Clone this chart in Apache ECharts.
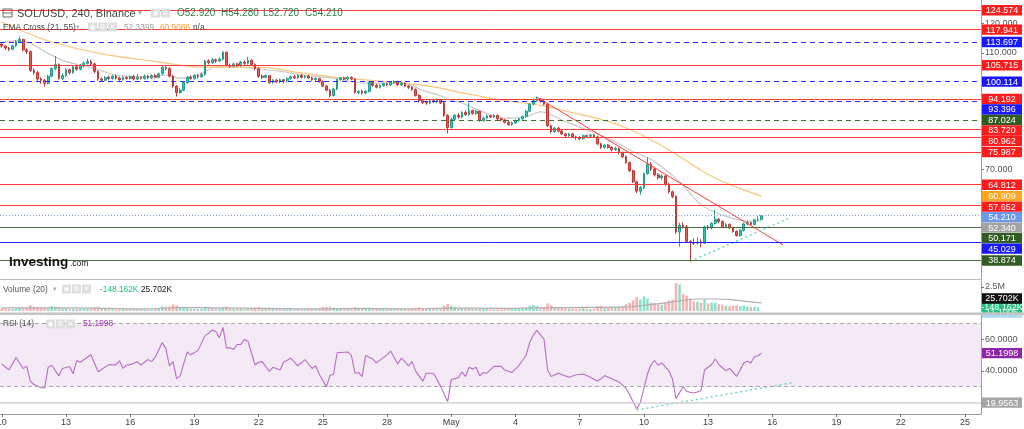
<!DOCTYPE html>
<html><head><meta charset="utf-8">
<script src="https://cdn.jsdelivr.net/npm/echarts@6/dist/echarts.min.js"></script>
<style>html,body{margin:0;padding:0;background:#fff}#c{width:1024px;height:429px}</style>
</head><body><div id="c"></div>
<script>
// ---------- DATA (SOL/USD, 4h candles, Binance) ----------
const opens = [
113.0,112.3,111.6,111.2,112.4,113.8,114.6,111.0,110.4,104.0,
103.2,101.0,100.6,99.6,102.0,104.6,106.0,101.2,102.2,104.2,
103.2,105.2,104.4,105.6,106.4,107.0,106.2,103.6,101.0,100.6,
101.6,101.2,102.0,101.4,100.8,101.6,101.2,101.8,101.0,101.6,
101.2,102.0,101.4,102.2,101.6,102.8,105.0,104.6,102.0,98.6,
96.4,97.2,99.8,101.6,101.2,102.2,101.8,102.6,107.2,106.6,
107.6,107.2,107.8,110.2,105.8,105.4,106.2,105.6,106.8,106.4,
107.4,106.0,104.6,102.0,101.6,102.2,99.8,100.6,100.0,100.8,
100.4,101.2,101.8,101.4,102.2,101.6,102.0,101.4,100.8,101.2,
100.2,98.6,97.2,95.4,97.6,100.8,101.4,101.0,101.6,101.0,
96.4,96.8,96.2,96.8,99.8,98.8,98.2,98.8,99.4,99.0,
99.8,100.2,99.0,99.6,98.6,98.2,97.4,95.4,93.6,93.0,
92.8,93.6,93.2,93.8,92.8,88.6,84.4,87.2,88.6,88.0,
89.6,88.8,90.2,89.2,90.0,86.8,87.6,88.4,88.0,88.6,
87.4,87.0,86.2,85.4,86.0,86.8,87.4,88.2,90.0,92.4,
93.6,94.2,93.4,92.4,85.0,83.0,84.2,83.2,82.2,81.6,
82.2,81.2,81.0,80.6,81.6,81.4,81.8,81.2,78.8,77.6,
78.4,77.6,76.8,77.2,75.8,74.4,72.4,69.6,65.8,62.6,
63.8,68.6,71.8,70.2,68.2,67.2,67.8,65.0,62.4,60.8,
48.6,51.0,50.4,45.4,45.0,44.8,45.2,44.8,50.4,50.0,
51.6,53.0,52.2,50.4,51.2,50.0,48.8,47.4,49.2,51.4,
51.8,51.2,52.8,52.92];
const closes = [
112.3,111.6,111.2,112.4,113.8,114.6,111.0,110.4,104.0,103.2,
101.0,100.6,99.6,102.0,104.6,106.0,101.2,102.2,104.2,103.2,
105.2,104.4,105.6,106.4,107.0,106.2,103.6,101.0,100.6,101.6,
101.2,102.0,101.4,100.8,101.6,101.2,101.8,101.0,101.6,101.2,
102.0,101.4,102.2,101.6,102.8,105.0,104.6,102.0,98.6,96.4,
97.2,99.8,101.6,101.2,102.2,101.8,102.6,107.2,106.6,107.6,
107.2,107.8,110.2,105.8,105.4,106.2,105.6,106.8,106.4,107.4,
106.0,104.6,102.0,101.6,102.2,99.8,100.6,100.0,100.8,100.4,
101.2,101.8,101.4,102.2,101.6,102.0,101.4,100.8,101.2,100.2,
98.6,97.2,95.4,97.6,100.8,101.4,101.0,101.6,101.0,96.4,
96.8,96.2,96.8,99.8,98.8,98.2,98.8,99.4,99.0,99.8,
100.2,99.0,99.6,98.6,98.2,97.4,95.4,93.6,93.0,92.8,
93.6,93.2,93.8,92.8,88.6,84.4,87.2,88.6,88.0,89.6,
88.8,90.2,89.2,90.0,86.8,87.6,88.4,88.0,88.6,87.4,
87.0,86.2,85.4,86.0,86.8,87.4,88.2,90.0,92.4,93.6,
94.2,93.4,92.4,85.0,83.0,84.2,83.2,82.2,81.6,82.2,
81.2,81.0,80.6,81.6,81.4,81.8,81.2,78.8,77.6,78.4,
77.6,76.8,77.2,75.8,74.4,72.4,69.6,65.8,62.6,63.8,
68.6,71.8,70.2,68.2,67.2,67.8,65.0,62.4,60.8,48.6,
51.0,50.4,45.4,45.0,44.8,45.2,44.8,50.4,50.0,51.6,
53.0,52.2,50.4,51.2,50.0,48.8,47.4,49.2,51.4,51.8,
51.2,52.8,52.92,54.21];
const lows = [
111.8,111.0,110.6,110.9,112.0,113.4,110.5,109.6,103.5,102.5,
100.4,99.4,98.4,99.2,101.6,104.0,100.8,100.6,101.8,102.6,
102.8,103.8,104.0,105.0,106.0,105.6,103.0,100.4,100.0,100.2,
100.6,100.8,100.8,100.4,100.4,100.8,100.8,100.6,100.6,100.8,
100.8,101.0,101.0,101.2,101.2,102.4,104.0,101.6,98.0,95.0,
96.0,96.8,99.4,100.8,100.8,101.2,101.4,102.2,106.0,106.2,
106.6,106.8,107.4,105.4,104.8,105.0,105.2,105.2,105.8,106.0,
105.6,104.0,101.4,101.0,101.2,99.4,99.4,99.6,99.6,99.6,
99.8,100.8,101.0,101.0,101.2,101.2,101.0,100.4,100.4,99.8,
98.2,96.8,94.8,95.0,97.2,100.4,100.6,100.6,100.6,96.0,
95.8,95.6,95.8,96.4,98.4,97.8,97.8,98.4,98.6,98.6,
99.4,98.6,98.6,98.2,97.6,97.0,95.0,93.0,92.4,92.2,
92.4,92.8,92.8,92.4,88.0,82.4,84.0,86.8,87.4,87.6,
88.4,88.4,88.8,88.8,86.4,86.4,87.2,87.6,87.6,87.0,
86.6,85.8,85.0,85.0,85.6,86.4,87.0,87.8,89.6,92.0,
93.2,93.0,92.0,84.6,82.4,82.6,82.8,81.8,81.0,81.2,
80.8,80.2,80.0,80.2,81.0,81.0,80.8,78.4,77.0,77.2,
77.2,76.2,76.4,75.2,74.0,72.0,69.2,65.4,62.0,61.4,
63.4,68.2,69.6,67.6,66.6,66.4,64.4,61.8,60.2,48.0,
43.6,49.8,45.0,38.5,44.2,44.4,43.4,44.6,49.4,49.6,
51.2,51.6,50.0,50.0,49.6,48.4,47.0,47.0,48.8,51.0,
50.8,50.8,52.4,52.72];
const highs = [
113.6,112.6,112.0,112.8,114.4,115.6,114.9,111.5,110.8,104.6,
103.8,101.6,101.0,102.4,105.0,108.9,106.4,103.0,104.8,104.6,
105.6,105.8,106.2,107.0,108.0,107.6,106.6,104.0,101.6,102.0,
102.2,102.4,102.6,101.8,102.0,102.0,102.2,102.4,102.8,102.0,
102.6,102.4,102.6,102.8,103.2,105.4,105.6,105.0,102.4,99.0,
97.8,100.2,102.0,102.2,102.6,102.6,103.2,107.6,107.8,108.2,
108.0,108.4,110.6,110.4,106.4,106.6,106.6,107.2,107.4,108.6,
107.8,106.4,105.0,102.6,102.6,102.4,101.0,101.0,101.2,101.0,
101.6,102.2,102.4,102.6,102.8,102.4,102.4,101.8,101.6,101.4,
100.6,99.0,97.6,98.0,101.2,101.8,101.8,102.0,102.0,101.4,
97.2,97.4,97.2,100.2,100.2,99.4,99.2,99.8,99.8,100.2,
100.6,100.4,100.0,99.8,99.0,98.6,97.8,95.8,94.0,93.6,
94.0,94.2,94.4,94.2,93.2,89.0,87.8,89.0,89.4,90.0,
90.2,92.8,90.6,90.4,90.2,88.0,88.8,88.8,89.0,88.8,
87.8,87.4,86.6,86.4,87.2,87.8,88.6,90.4,92.8,94.2,
95.0,94.6,93.8,92.8,85.4,84.6,84.6,83.6,82.6,82.6,
82.6,81.6,81.4,82.0,82.0,82.2,82.2,81.6,79.2,78.8,
78.8,78.0,77.8,77.6,76.2,74.8,72.8,70.0,66.2,64.4,
69.0,74.2,72.6,70.8,68.8,68.4,68.2,65.4,62.8,61.2,
51.8,52.0,51.0,45.8,46.4,46.8,46.2,50.8,51.0,52.0,
56.2,53.4,52.6,51.6,51.6,50.4,49.2,49.6,51.8,52.6,
52.2,53.2,54.0,54.28];
// volume in millions
const volumes = [
0.30,0.25,0.22,0.20,0.28,0.30,0.26,0.35,0.62,0.45,
0.40,0.30,0.32,0.28,0.50,0.45,0.42,0.25,0.28,0.22,
0.25,0.20,0.22,0.24,0.26,0.22,0.38,0.44,0.30,0.22,
0.18,0.20,0.16,0.18,0.15,0.17,0.16,0.18,0.15,0.16,
0.18,0.15,0.17,0.20,0.22,0.50,0.45,0.48,0.70,0.60,
0.45,0.40,0.35,0.25,0.22,0.20,0.24,0.45,0.30,0.28,
0.25,0.26,0.40,0.45,0.30,0.24,0.22,0.25,0.20,0.28,
0.30,0.32,0.42,0.26,0.22,0.30,0.22,0.20,0.18,0.20,
0.18,0.20,0.16,0.18,0.17,0.15,0.16,0.18,0.17,0.22,
0.40,0.42,0.45,0.35,0.30,0.22,0.18,0.20,0.18,0.38,
0.30,0.26,0.22,0.35,0.22,0.20,0.18,0.20,0.17,0.18,
0.17,0.20,0.16,0.18,0.20,0.22,0.32,0.40,0.26,0.24,
0.22,0.20,0.18,0.22,0.55,0.75,0.55,0.40,0.32,0.28,
0.25,0.30,0.22,0.20,0.30,0.24,0.20,0.18,0.17,0.18,
0.17,0.20,0.26,0.22,0.24,0.25,0.28,0.35,0.55,0.62,
0.50,0.38,0.40,0.80,0.60,0.40,0.35,0.30,0.28,0.26,
0.25,0.24,0.26,0.30,0.25,0.22,0.24,0.50,0.55,0.40,
0.38,0.42,0.35,0.45,0.50,0.70,0.85,1.10,1.45,1.20,
1.50,1.30,0.90,0.85,0.70,0.65,0.90,1.10,1.20,2.90,
2.80,1.80,1.60,1.30,1.00,0.95,0.85,1.20,0.80,0.90,
0.85,0.70,0.65,0.55,0.50,0.55,0.60,0.50,0.55,0.45,
0.40,0.45,0.38,0.03];
// [candle index, value]
const volumeMA = [[0,0.32],[20,0.33],[40,0.22],[50,0.35],[60,0.33],[75,0.28],[90,0.22],[100,0.28],[115,0.22],[125,0.30],[140,0.28],[150,0.33],[165,0.38],[175,0.42],[180,0.6],[185,0.8],[190,1.05],[195,1.25],[200,1.25],[205,1.15],[210,0.95],[213,0.85]];
const emaFast = [[0,113.6],[5,114.2],[14,109.2],[18,107.0],[26,104.7],[32,102.4],[42,101.8],[46,102.4],[50,101.3],[56,103.0],[60,105.2],[65,105.2],[70,104.7],[79,103.5],[84,102.4],[93,101.3],[102,99.6],[112,99.6],[119,96.7],[123,95.3],[125,94.0],[129,92.8],[137,88.7],[142,87.6],[147,88.1],[151,89.8],[157,87.0],[164,83.6],[171,80.1],[177,76.1],[182,73.5],[190,65.8],[196,58.0],[203,54.0],[210,52.3],[213,52.34]];
const emaSlow = [[0,120.5],[5,117.8],[14,113.7],[28,109.6],[42,107.2],[56,105.1],[65,105.1],[73,105.0],[84,103.1],[93,101.7],[102,100.7],[112,99.7],[121,98.3],[129,96.3],[140,93.8],[151,92.0],[160,89.5],[170,86.5],[176,83.8],[181,80.8],[186,77.5],[190,74.5],[196,69.8],[201,66.5],[207,63.5],[213,60.909]];
const rsi = [[0,44.3],[2,40.6],[4,48.4],[6,41.5],[7,43.0],[8,33.5],[9,31.4],[11,29.3],[12,29.3],[13,42.2],[14,43.5],[16,36.8],[17,41.5],[19,42.8],[20,38.1],[21,46.5],[22,45.4],[25,50.1],[27,39.4],[30,43.9],[32,43.7],[33,46.3],[34,41.5],[35,43.7],[36,43.9],[38,45.8],[39,43.7],[41,47.1],[42,45.8],[43,48.6],[45,57.9],[46,54.0],[47,43.2],[48,45.8],[49,35.1],[50,36.8],[52,51.9],[53,50.1],[55,52.9],[57,62.2],[58,63.7],[59,65.8],[60,64.8],[61,60.9],[62,67.4],[63,54.5],[64,54.5],[65,53.5],[66,56.6],[67,56.6],[68,59.8],[69,58.7],[71,43.7],[72,45.4],[73,45.8],[75,39.6],[76,42.2],[78,40.6],[79,45.4],[81,48.0],[83,43.2],[85,47.1],[86,44.3],[87,41.5],[88,43.2],[89,37.9],[91,29.9],[92,37.2],[93,37.7],[94,51.4],[97,51.9],[98,49.7],[99,38.5],[100,39.0],[101,36.4],[102,49.7],[104,47.5],[105,45.0],[108,50.1],[109,52.5],[111,44.3],[112,48.0],[113,45.8],[114,43.2],[115,45.8],[116,40.0],[118,33.5],[119,38.5],[121,38.5],[122,34.6],[123,30.3],[125,20.6],[126,34.6],[128,35.7],[129,39.4],[130,36.4],[131,42.2],[132,41.1],[133,42.2],[134,36.8],[135,39.0],[136,38.5],[138,42.8],[140,42.8],[141,40.5],[143,39.0],[145,43.5],[147,50.0],[148,58.0],[149,62.5],[150,65.5],[152,60.0],[153,40.5],[154,36.5],[156,38.5],[159,36.0],[161,37.5],[163,38.0],[165,36.0],[167,33.5],[168,35.0],[169,37.0],[171,35.0],[173,33.0],[175,29.0],[176,25.0],[178,16.0],[179,20.0],[181,38.0],[182,44.0],[183,46.5],[184,43.5],[185,45.0],[187,40.0],[188,35.0],[189,22.5],[191,30.0],[192,27.0],[194,26.0],[196,27.5],[197,40.5],[199,44.0],[200,47.5],[201,44.0],[203,40.0],[204,41.5],[206,36.5],[207,40.5],[208,45.0],[209,46.0],[210,45.0],[211,49.0],[212,49.5],[213,51.1998]];
// drawings: [candle index, price]
const redTrend = [[150,94.8],[219,44.2]];
const cyanTrend = [[193,38.6],[221,53.5]];
const rsiTrend = [[178,15.3],[222,32.7]];
// horizontal levels
const levelValues = [124.574,117.941,113.697,105.715,100.114,94.192,93.396,87.024,83.720,80.962,75.987,64.812,57.652,50.171,45.029,38.874];
const levelKinds  = ['r','r','bd','r','bd','r','bd','gd','r','r','r','r','r','g','b','g'];
const lastPrice = 54.21, emaFastLast = 52.34, emaSlowLast = 60.909;
const rsiLast = 51.1998, rsiLevel = 19.9563;
const priceTicks = [120, 110, 70];
const volumeTicks = [2.5];
const rsiTicks = [60, 40];
const tickDates  = ['04-10','04-13','04-16','04-19','04-22','04-25','04-28','05-01','05-04','05-07','05-10','05-13','05-16','05-19','05-22','05-25'];
const tickLabels = ['10','13','16','19','22','25','28','May','4','7','10','13','16','19','22','25'];

// ---------- CHART ----------
const FONT = 'Arial, "Liberation Sans", sans-serif';
const N = 275;
const pad = n => (n < 10 ? '0' : '') + n;
const categories = [];
for (let k = 0; k < N; k++) {
  const d = new Date(Date.UTC(2022, 3, 10) + k * 4 * 3600e3);
  categories.push(pad(d.getUTCMonth() + 1) + '-' + pad(d.getUTCDate()) + ' ' + pad(d.getUTCHours()) + ':00');
}
const tickMap = {};
tickDates.forEach((d, j) => { tickMap[d + ' 00:00'] = tickLabels[j]; });
const isTick = (idx, val) => tickMap[categories[idx]] !== undefined;

const UP = '#26c9b6', DOWN = '#ef5350';
const candles = opens.map((o, i) => [o, closes[i], lows[i], highs[i]]);
const volData = volumes.map((v, i) => ({ value: v, itemStyle: { color: closes[i] >= opens[i] ? 'rgba(38,201,150,0.55)' : 'rgba(239,83,80,0.45)' } }));

const kindStyle = {
  r:  { color: '#ff3a3a', type: 'solid', width: 1 },
  bd: { color: '#2b2bff', type: [5, 4], width: 1 },
  gd: { color: '#3f6f2f', type: [5, 4], width: 1 },
  g:  { color: '#4d6b38', type: 'solid', width: 1 },
  b:  { color: '#1f1fff', type: 'solid', width: 1 }
};
const kindLabel = { r: '#ff1c1c', bd: '#1818ff', gd: '#335c23', g: '#335c23', b: '#1818ff' };

const levelLines = levelValues.map((v, i) => ({ yAxis: v, lineStyle: kindStyle[levelKinds[i]] }));
levelLines.push({ yAxis: lastPrice, lineStyle: { color: '#7d9fee', type: [1, 2], width: 1 } });

const grids = [
  { left: 0, right: 43, top: 0, height: 279, outerBoundsMode: 'none', containLabel: false },
  { left: 0, right: 43, top: 281, height: 30, outerBoundsMode: 'none', containLabel: false },
  { left: 0, right: 43, top: 315, height: 99, outerBoundsMode: 'none', containLabel: false }
];
const xAxes = [0, 1, 2].map(g => ({
  type: 'category', gridIndex: g, data: categories, boundaryGap: true,
  axisLine: { show: g === 2, lineStyle: { color: '#9e9e9e' } },
  axisTick: { show: g === 2, interval: isTick, alignWithLabel: true, length: 3, lineStyle: { color: '#777' } },
  axisLabel: { show: g === 2, interval: isTick, formatter: v => tickMap[v] || '', fontSize: 9, color: '#444', margin: 4, fontFamily: FONT, alignMinLabel: 'center', alignMaxLabel: 'center', hideOverlap: false },
  splitLine: { show: false }
}));
function yAx(g, min, max, ticks, fmt) {
  return {
    type: 'value', gridIndex: g, position: 'right', min, max, scale: true,
    axisLine: { show: true, lineStyle: { color: '#9e9e9e' } },
    axisTick: { show: true, customValues: ticks, length: 3, lineStyle: { color: '#777' } },
    axisLabel: { show: true, customValues: ticks, formatter: fmt, fontSize: 9, color: '#555', margin: 4, fontFamily: FONT },
    splitLine: { show: false }
  };
}
const yAxes = [
  yAx(0, 32.53, 128.08, priceTicks, v => v.toFixed(3)),
  yAx(1, 0, 3.125, volumeTicks, v => v + 'M'),
  yAx(2, 12.8, 75.2, rsiTicks, v => v.toFixed(4))
];

const series = [
  { type: 'candlestick', xAxisIndex: 0, yAxisIndex: 0, data: candles, barWidth: '62%',
    itemStyle: { color: UP, color0: DOWN, borderColor: '#1f9e90', borderColor0: '#c23a36', borderWidth: 1 },
    markLine: { silent: true, symbol: 'none', label: { show: false }, animation: false, data: levelLines },
    z: 3 },
  { type: 'line', xAxisIndex: 0, yAxisIndex: 0, data: emaFast, smooth: 0.35, showSymbol: false, lineStyle: { color: '#c8c8c8', width: 1.2 }, z: 2 },
  { type: 'line', xAxisIndex: 0, yAxisIndex: 0, data: emaSlow, smooth: 0.35, showSymbol: false, lineStyle: { color: '#fbc57d', width: 1.2 }, z: 2 },
  { type: 'line', xAxisIndex: 0, yAxisIndex: 0, data: redTrend, showSymbol: false, lineStyle: { color: '#ff3b3b', width: 1 }, z: 4 },
  { type: 'line', xAxisIndex: 0, yAxisIndex: 0, data: cyanTrend, showSymbol: false, lineStyle: { color: '#6fd6c8', width: 1.5, type: [2, 3] }, z: 4 },
  { type: 'bar', xAxisIndex: 1, yAxisIndex: 1, data: volData, barWidth: '70%', z: 2 },
  { type: 'line', xAxisIndex: 1, yAxisIndex: 1, data: volumeMA, smooth: 0.3, showSymbol: false, lineStyle: { color: '#b0b0b0', width: 1.2 }, z: 3 },
  { type: 'line', xAxisIndex: 2, yAxisIndex: 2, data: rsi, showSymbol: false, lineStyle: { color: '#b86cc6', width: 1.1 }, z: 3,
    markArea: { silent: true, itemStyle: { color: 'rgba(155,80,175,0.12)' }, data: [[{ yAxis: 30 }, { yAxis: 70 }]] },
    markLine: { silent: true, symbol: 'none', label: { show: false }, animation: false, data: [
      { yAxis: 70, lineStyle: { color: '#a8a8a8', type: [4, 3], width: 1 } },
      { yAxis: 30, lineStyle: { color: '#a8a8a8', type: [4, 3], width: 1 } },
      { yAxis: rsiLevel, lineStyle: { color: '#d2d2d2', type: 'solid', width: 1.5 } }
    ] } },
  { type: 'line', xAxisIndex: 2, yAxisIndex: 2, data: rsiTrend, showSymbol: false, lineStyle: { color: '#6fd6c8', width: 1.5, type: [2, 3] }, z: 4 }
];

const chart = echarts.init(document.getElementById('c'));
chart.setOption({ animation: false, grid: grids, xAxis: xAxes, yAxis: yAxes, series });

// ---------- header / chrome ----------
const G = [];
function txt(x, y, t, fill, size, weight) {
  G.push({ type: 'text', z: 50, style: { x, y, text: t, fill, font: (weight || 'normal') + ' ' + size + 'px ' + FONT, textVerticalAlign: 'middle', verticalAlign: 'middle' } });
}
function icons(x0, y, n) {
  const glyph = ['◉', '⚙', '✕'];
  for (let k = 0; k < n; k++) {
    const x = x0 + k * 10;
    G.push({ type: 'rect', z: 50, shape: { x, y: y - 4.5, width: 9, height: 9 }, style: { fill: '#dedede' } });
    G.push({ type: 'text', z: 51, style: { x: x + 4.5, y, text: glyph[k], fill: '#fff', font: '7px "DejaVu Sans"', textAlign: 'center', align: 'center', textVerticalAlign: 'middle', verticalAlign: 'middle' } });
  }
}
function box(y, text, bg, fg) {
  G.push({ type: 'rect', z: 60, shape: { x: 982, y: y - 5.2, width: 40, height: 10.4 }, style: { fill: bg } });
  G.push({ type: 'text', z: 61, style: { x: 1002, y: y + 0.5, text, fill: fg || '#fff', font: '9px ' + FONT, textAlign: 'center', align: 'center', textVerticalAlign: 'middle', verticalAlign: 'middle' } });
}
// title row
G.push({ type: 'rect', z: 50, shape: { x: 3, y: 9, width: 9, height: 8 }, style: { fill: 'none', stroke: '#666', lineWidth: 1 } });
G.push({ type: 'line', z: 50, shape: { x1: 3, y1: 13, x2: 12, y2: 13 }, style: { stroke: '#666', lineWidth: 1 } });
txt(17, 13.5, 'SOL/USD, 240, Binance', '#444', 11);
txt(138, 13, '▾', '#aaa', 8);
icons(151, 13, 2);
txt(177, 13.5, 'O52.920', '#2f7a45', 10);
txt(221, 13.5, 'H54.280', '#2f7a45', 10);
txt(263, 13.5, 'L52.720', '#2f7a45', 10);
txt(305, 13.5, 'C54.210', '#2f7a45', 10);
// EMA row
txt(3, 27.5, 'EMA Cross (21, 55)', '#444', 8.3);
txt(76, 27, '▾', '#aaa', 7);
icons(88, 27, 3);
txt(124, 27.5, '52.3399', '#9e9e9e', 8.3);
txt(160, 27.5, '60.9086', '#f7a030', 8.3);
txt(193, 27.5, 'n/a', '#444', 8.3);
// volume row
txt(3, 289.5, 'Volume (20)', '#555', 8.3);
txt(53, 289, '▾', '#aaa', 7);
icons(62, 289, 3);
txt(100, 289.5, '-148.162K', '#1fbf75', 8.3);
txt(141, 289.5, '25.702K', '#111', 8.3);
// RSI row
txt(3, 324, 'RSI (14)', '#555', 8.3);
icons(46, 324, 3);
txt(83, 324, '51.1998', '#9b2fae', 8.3);
// logo
txt(9, 262, 'Investing', '#111', 13.5, 'bold');
txt(70, 264, '.com', '#111', 8.5);
// pane separators
G.push({ type: 'line', z: 40, shape: { x1: 0, y1: 279.5, x2: 982, y2: 279.5 }, style: { stroke: '#bdbdbd', lineWidth: 1 } });
// right-side price labels with stacking
const lbls = levelValues.map((v, i) => ({ v, bg: kindLabel[levelKinds[i]] }));
lbls.push({ v: lastPrice, bg: '#6b97ec' }, { v: emaFastLast, bg: '#a3a3a3' }, { v: emaSlowLast, bg: '#ffa51f' });
lbls.forEach(l => { l.y = chart.convertToPixel({ yAxisIndex: 0 }, l.v); });
lbls.sort((a, b) => a.y - b.y);
let prev = -100;
lbls.forEach(l => { l.y = Math.max(l.y, prev + 10.5); prev = l.y; box(l.y, l.v.toFixed(3), l.bg); });
// volume pane labels
box(312.5, '11.1005', '#a8daf0', '#e8f6fc');
box(307.5, '-148.162K', '#1fc27a');
box(298.5, '25.702K', '#111');
G.push({ type: 'rect', z: 62, shape: { x: 0, y: 312.5, width: 1024, height: 2.5 }, style: { fill: '#c4c4c4' } });
// RSI labels
box(chart.convertToPixel({ yAxisIndex: 2 }, rsiLast), rsiLast.toFixed(4), '#8e24aa');
box(chart.convertToPixel({ yAxisIndex: 2 }, rsiLevel), rsiLevel.toFixed(4), '#a5a5a5');
chart.setOption({ graphic: { elements: G } });
</script>
</body></html>
